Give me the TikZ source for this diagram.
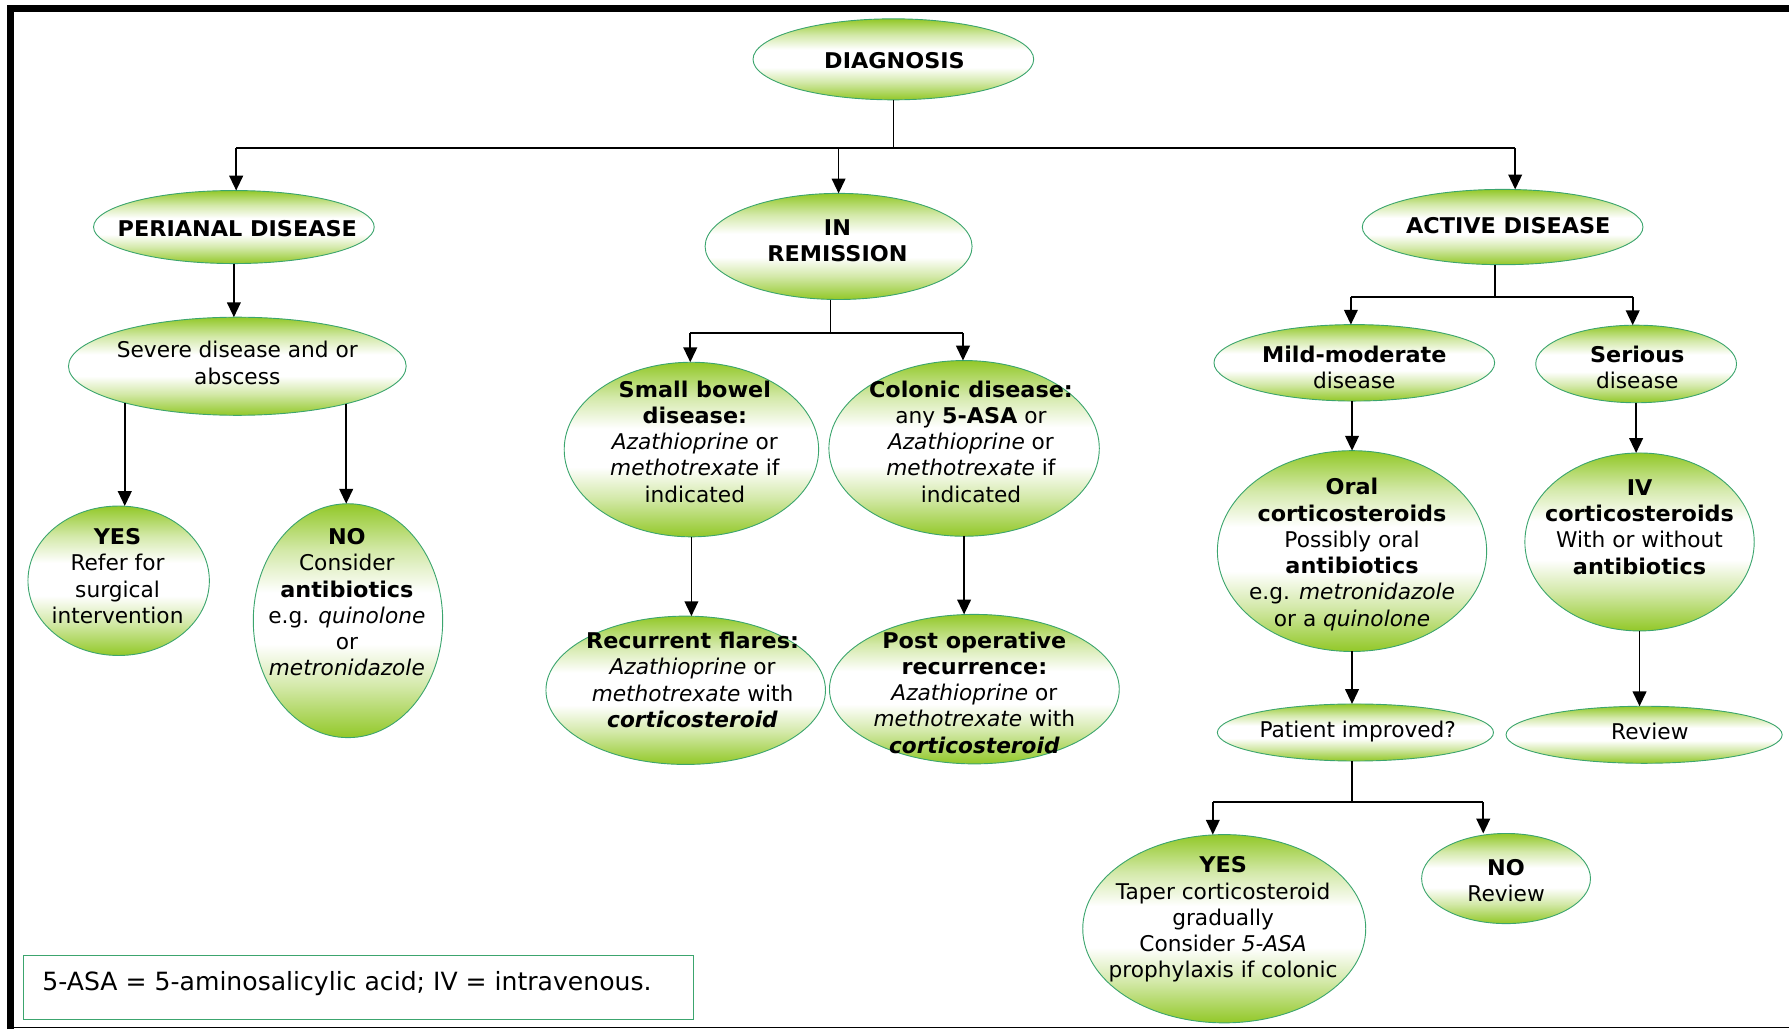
\documentclass[tikz,border=0pt]{standalone}
\usepackage{fontspec}
\setmainfont{DejaVu Sans}[BoldFeatures={FakeStretch=1.03}]
\newfontfamily\legendfont{DejaVu Sans}
\usetikzlibrary{shapes.geometric,arrows.meta,calc}

\definecolor{leaf}{RGB}{146,200,40}
\definecolor{rim}{RGB}{60,165,110}
% green at the rim, white band across the middle
\pgfdeclareverticalshading{leafshade}{100bp}{%
  color(0bp)=(leaf); color(25bp)=(leaf); color(36bp)=(leaf!40);
  color(45bp)=(white); color(56bp)=(white); color(65bp)=(leaf!40);
  color(75bp)=(leaf); color(100bp)=(leaf)}

\tikzset{
  bubble/.style={ellipse, draw=rim, line width=0.8pt, shading=leafshade,
                 inner sep=0pt, outer sep=0pt},
  txt/.style={align=center, inner sep=0pt, font=\fontsize{19}{23}\selectfont},
  lin/.style={line width=1.5pt},
  arr/.style={line width=1.5pt, -{Triangle[length=13pt,width=12pt]}},
}

% \bubble{name}{cx}{cy}{width}{height}{(text position)}{text}
\newcommand\bubble[7]{%
  \node[bubble, minimum width=#4pt, minimum height=#5pt] (#1) at (#2,#3) {};
  \node[txt] (#1-t) at #6 {#7};}

\begin{document}
\begin{tikzpicture}[x=1pt, y=-1pt]
\useasboundingbox (0,0) rectangle (1568,902);

% frame
\draw[line width=6pt] (9,902) -- (9,7.5) -- (1568,7.5);
\draw[line width=1.5pt] (9,900.5) -- (1568,900.5);

% top level
\bubble{diag}{783}{52}{246}{71}{(784,53)}{\textbf{DIAGNOSIS}}
\bubble{peri}{205}{199}{246}{64}{(208,200)}{\textbf{PERIANAL DISEASE}}
\bubble{rem}{735}{216}{234}{93}{(734,211)}{\textbf{IN}\\\textbf{REMISSION}}
\bubble{act}{1317}{199}{246}{66}{(1322,198)}{\textbf{ACTIVE DISEASE}}

% perianal branch
\bubble{sev}{208}{321}{296}{86}{(208,318)}{Severe disease and or\\abscess}
\bubble{yesa}{104}{509}{159}{131}{(103,505)}{\textbf{YES}\\Refer for\\surgical\\intervention}
\bubble{noa}{305}{544}{166}{205}{(304,528)}{\textbf{NO}\\Consider\\\textbf{antibiotics}\\e.g. \textit{quinolone}\\or\\\textit{metronidazole}}

% remission branch
\bubble{sb}{606}{394}{223}{153}{(609,387)}{\textbf{Small bowel}\\\textbf{disease:}\\\textit{Azathioprine} or\\\textit{methotrexate} if\\indicated}
\bubble{col}{845}{393}{237}{154}{(851,387)}{\textbf{Colonic disease:}\\any \textbf{5-ASA} or\\\textit{Azathioprine} or\\\textit{methotrexate} if\\indicated}
\bubble{rec}{601}{605}{245}{130}{(607,596)}{\textbf{Recurrent flares:}\\\textit{Azathioprine} or\\\textit{methotrexate} with\\\textbf{\textit{corticosteroid}}}
\bubble{post}{854}{604}{254}{131}{(854,607)}{\textbf{Post operative}\\\textbf{recurrence:}\\\textit{Azathioprine} or\\\textit{methotrexate} with\\\textbf{\textit{corticosteroid}}}

% active branch
\bubble{mild}{1187}{318}{246}{67}{(1187,322)}{\textbf{Mild-moderate}\\disease}
\bubble{ser}{1434}{319}{176}{68}{(1435,322)}{\textbf{Serious}\\disease}
\bubble{oral}{1185}{483}{236}{176}{(1185,486)}{\textbf{Oral}\\\textbf{corticosteroids}\\Possibly oral\\\textbf{antibiotics}\\e.g. \textit{metronidazole}\\or a \textit{quinolone}}
\bubble{iv}{1437}{475}{201}{156}{(1437,462)}{\textbf{IV}\\\textbf{corticosteroids}\\With or without\\\textbf{antibiotics}}
\bubble{pat}{1188}{642}{242}{50}{(1190,641)}{Patient improved?}
\bubble{rev}{1441}{644}{242}{50}{(1446,641)}{Review}
\bubble{yesb}{1073}{814}{248}{165}{(1072,806)}{\textbf{YES}\\Taper corticosteroid\\gradually\\Consider \textit{5-ASA}\\prophylaxis if colonic}
\bubble{nob}{1320}{770}{148}{79}{(1320,772)}{\textbf{NO}\\Review}

% connectors: diagnosis
\coordinate (ja) at (783,130);
\coordinate (jal) at (207,130);
\coordinate (jar) at (1328,130);
\draw[lin] (diag.south) -- (ja);
\draw[lin] (jal) -- (jar);
\draw[arr] (jal) -- (jal |- peri.north);
\draw[arr] (ja -| rem.north) -- (rem.north);
\draw[arr] (jar) -- (jar |- act.north);

% perianal
\draw[arr] (peri.south) -- (peri.south |- sev.north);
\draw[arr] (sev.198.5) -- (sev.198.5 |- yesa.north);
\draw[arr] (sev.-19) -- (sev.-19 |- noa.north);

% remission
\coordinate (jb) at (728,292);
\coordinate (jbl) at (605,292);
\coordinate (jbr) at (844,292);
\draw[lin] (jb |- rem.south) -- (jb);
\draw[lin] (jbl) -- (jbr);
\draw[arr] (jbl) -- (jbl |- sb.north);
\draw[arr] (jbr) -- (jbr |- col.north);
\draw[arr] (sb.south) -- (sb.south |- rec.north);
\draw[arr] (col.south) -- (col.south |- post.north);

% active
\coordinate (jc) at (1310,260);
\coordinate (jcl) at (1184,260);
\coordinate (jcr) at (1431,260);
\draw[lin] (jc |- act.south) -- (jc);
\draw[lin] (jcl) -- (jcr);
\draw[arr] (jcl) -- (jcl |- mild.north);
\draw[arr] (jcr) -- (jcr |- ser.north);
\draw[arr] (oral.north |- mild.south) -- (oral.north);
\draw[arr] (ser.south) -- (ser.south |- iv.north);
\draw[arr] (oral.south) -- (oral.south |- pat.north);
\draw[arr] (iv.south) -- (iv.south |- rev.north);

% improvement check
\coordinate (jd) at (1185,703);
\coordinate (jdl) at (1063,703);
\coordinate (jdr) at (1300,703);
\draw[lin] (jd |- pat.south) -- (jd);
\draw[lin] (jdl) -- (jdr);
\draw[arr] (jdl) -- (jdl |- yesb.north);
\draw[arr] (jdr) -- (jdr |- nob.north);

% abbreviations
\node[draw=rim, line width=1.2pt, inner sep=0pt, minimum width=587pt,
      minimum height=56pt, anchor=north west] (leg) at (20,837) {};
\node[anchor=west, inner sep=0pt, font=\legendfont\fontsize{22}{26}\selectfont]
      (leg-t) at (37,862) {5-ASA = 5-aminosalicylic acid; IV = intravenous.};
\end{tikzpicture}
\end{document}
